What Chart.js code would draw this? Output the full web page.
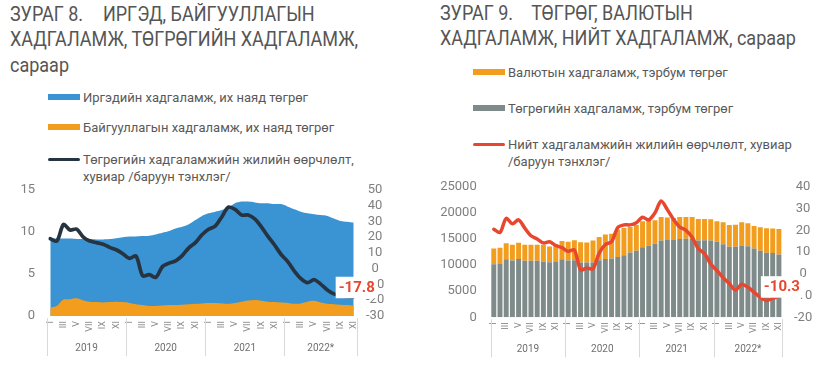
<!DOCTYPE html>
<html lang="mn">
<head>
    <meta charset="UTF-8">
    <title>Хадгаламж</title>
    <script src="https://cdn.jsdelivr.net/npm/chart.js"></script>
    <style>
        body {
            margin: 0;
            width: 825px;
            height: 366px;
            position: relative;
            overflow: hidden;
            background: #fff;
            font-family: Roboto, "Noto Sans", sans-serif;
            color: #595959;
        }
        .title {
            position: absolute;
            font-size: 20px;
            line-height: 25.3px;
            color: #555;
            white-space: nowrap;
            transform: scaleX(0.9);
            transform-origin: 0 0;
        }
        .title .gap {
            display: inline-block;
            width: 22px;
        }
        .legend {
            position: absolute;
            font-size: 13px;
            line-height: 17px;
            color: #595959;
        }
        .legend .item {
            position: absolute;
            left: 0;
            display: flex;
            align-items: flex-start;
            white-space: nowrap;
        }
        .legend .swatch {
            width: 32px;
            height: 6px;
            margin-top: 5.5px;
            margin-right: 3px;
            flex: none;
        }
        .legend .swatch.line {
            height: 3.5px;
            margin-top: 7px;
            border-radius: 2px;
        }
        canvas {
            position: absolute;
        }
    </style>
</head>
<body>
    <div class="title" style="left:10px; top:2px;">ЗУРАГ 8.<span class="gap"></span>ИРГЭД, БАЙГУУЛЛАГЫН<br>ХАДГАЛАМЖ, ТӨГРӨГИЙН ХАДГАЛАМЖ,<br>сараар</div>
    <div class="title" style="left:440px; top:1px;">ЗУРАГ 9.<span class="gap" style="width:20px"></span>ТӨГРӨГ, ВАЛЮТЫН<br>ХАДГАЛАМЖ, НИЙТ ХАДГАЛАМЖ, сараар</div>

    <div class="legend" id="legend8" style="left:48px; top:0;"></div>
    <div class="legend" id="legend9" style="left:473px; top:0;"></div>

    <canvas id="chart8" width="410" height="196" style="left:0; top:170px;"></canvas>
    <canvas id="chart9" width="405" height="201" style="left:420px; top:165px;"></canvas>

    <script>
        // months 2019 I .. 2022 XI
        const monthTicks = ['I', '', 'III', '', 'V', '', 'VII', '', 'IX', '', 'XI', ''];
        const years = ['2019', '2020', '2021', '2022*'];
        const monthCount = 47;

        // Зураг 8 (их наяд төгрөг, %)
        const individualDeposits = [
            9.2, 9.2, 9.2, 9.2, 9.15, 9.15, 9.15, 9.1, 9.1, 9.15, 9.25, 9.35,
            9.45, 9.45, 9.5, 9.55, 9.7, 9.9, 10.1, 10.4, 10.6, 10.9, 11.4, 11.9,
            12.2, 12.4, 12.6, 12.9, 13.4, 13.6, 13.6, 13.5, 13.4, 13.4, 13.3, 13.3,
            13.0, 12.7, 12.4, 12.2, 12.1, 12.0, 11.9, 11.6, 11.3, 11.2, 11.1
        ];
        const orgDeposits = [
            1.0, 1.2, 1.95, 2.0, 2.1, 1.85, 1.7, 1.65, 1.6, 1.65, 1.7, 1.65,
            1.55, 1.4, 1.3, 1.2, 1.2, 1.25, 1.3, 1.3, 1.35, 1.4, 1.45, 1.5,
            1.55, 1.55, 1.5, 1.45, 1.55, 1.7, 1.85, 1.9, 1.8, 1.7, 1.65, 1.6,
            1.55, 1.45, 1.5, 1.7, 1.8, 1.6, 1.45, 1.4, 1.35, 1.3, 1.25
        ];
        const mntGrowth = [
            19, 17.5, 28, 24.5, 25, 20, 17.5, 16.5, 15.5, 13.5, 12, 9.5,
            6.5, 8, -4.5, -3.8, -5.5, 1.3, 3.5, 5, 8.3, 13.2, 16.5, 21.5,
            25, 27, 32.8, 39, 37.6, 34, 34, 31.5, 26.5, 20.5, 15, 9,
            4.5, -1.5, -6.3, -8.9, -7, -9.8, -13.5, -16, -17.2, -17.6, -17.8
        ];

        // Зураг 9 (тэрбум төгрөг, %)
        const mntDeposits = [
            10180, 10200, 11100, 10900, 11150, 10850, 10850, 10850, 10700, 10550, 10600, 11100,
            10900, 10950, 10500, 10500, 10500, 10950, 11150, 11250, 11550, 11900, 12400, 12750,
            13400, 13700, 14100, 14700, 14800, 14800, 15000, 15050, 15000, 14700, 14750, 14700,
            14450, 14000, 13500, 13500, 13750, 13600, 13200, 12750, 12350, 12300, 12050
        ];
        const fxDeposits = [
            3020, 3100, 3100, 3000, 3150, 3050, 3050, 3050, 3200, 3000, 3400, 3500,
            3550, 3800, 3900, 3850, 4200, 4450, 4700, 4750, 5250, 5200, 4900, 4950,
            5000, 4900, 4500, 4500, 4300, 4200, 4200, 4150, 4200, 4150, 4100, 4100,
            3950, 4200, 4200, 4250, 4450, 4400, 4300, 4500, 4700, 4700, 4850
        ];
        const totalGrowth = [
            20.5, 19, 25.5, 23, 24.8, 21, 17.5, 16, 14.2, 14.7, 13, 12,
            10.3, 11, 1.8, 2.7, 2.3, 9.5, 13.5, 14.7, 21.3, 22.5, 22.5, 23.5,
            26, 24.8, 28, 33.5, 29.5, 25, 21.5, 20, 16.8, 11.5, 9.3, 4.5,
            1.5, -1.8, -4.5, -7.5, -4.8, -6.2, -8.5, -10.8, -12.3, -11.3, -10.3
        ];

        const labels = [];
        for (let i = 0; i < monthCount; i++) labels.push(monthTicks[i % 12]);

        const tickColor = '#7f7f7f';

        // year labels + separators under the month ticks
        const yearAxis = {
            id: 'yearAxis',
            afterDraw(chart) {
                const { ctx, chartArea, scales } = chart;
                const x = scales.x;
                const step = x.getPixelForValue(1) - x.getPixelForValue(0);
                const n = chart.data.labels.length;
                ctx.save();
                ctx.strokeStyle = '#d9d9d9';
                ctx.lineWidth = 1;
                ctx.fillStyle = '#6f6f6f';
                ctx.font = '10px Roboto';
                ctx.textAlign = 'center';
                ctx.textBaseline = 'middle';
                years.forEach((yr, k) => {
                    const first = k * 12;
                    const last = Math.min(first + 11, n - 1);
                    const left = x.getPixelForValue(first) - step / 2;
                    const right = x.getPixelForValue(last) + step / 2;
                    const edges = k === years.length - 1 ? [left, right] : [left];
                    edges.forEach(px => {
                        ctx.beginPath();
                        ctx.moveTo(Math.round(px) + 0.5, chartArea.bottom + 2);
                        ctx.lineTo(Math.round(px) + 0.5, chartArea.bottom + 40);
                        ctx.stroke();
                    });
                    ctx.fillText(yr, (left + right) / 2, chartArea.bottom + 32);
                });
                ctx.restore();
            }
        };

        // boxed value on the last point of the line
        const lastValue = {
            id: 'lastValue',
            afterDraw(chart) {
                const ds = chart.data.datasets[0];
                const meta = chart.getDatasetMeta(0);
                const pt = meta.data[meta.data.length - 1];
                const txt = String(ds.data[ds.data.length - 1]);
                const ctx = chart.ctx;
                ctx.save();
                ctx.font = 'bold 15px Roboto';
                const w = ctx.measureText(txt).width;
                const cx = pt.x + 3;
                const cy = pt.y - 10;
                ctx.fillStyle = '#fff';
                ctx.fillRect(cx - w / 2 - 3, cy - 10, w + 6, 21.5);
                ctx.fillStyle = '#e8472f';
                ctx.textAlign = 'center';
                ctx.textBaseline = 'middle';
                ctx.fillText(txt, cx, cy + 1);
                ctx.restore();
            }
        };

        function xScale() {
            return {
                offset: true,
                grid: { display: false, drawTicks: false },
                border: { display: false },
                ticks: {
                    autoSkip: false, minRotation: 90, maxRotation: 90,
                    font: { size: 9, family: 'Roboto' }, color: '#8a8a8a', padding: 5
                }
            };
        }

        function yScale(pos, min, max, step, pad, width, align) {
            return {
                position: pos, min: min, max: max,
                grid: { display: false, drawTicks: false },
                border: { display: false },
                ticks: {
                    stepSize: step, padding: pad, crossAlign: align, autoSkip: false,
                    font: { size: 13, family: 'Roboto' }, color: tickColor,
                    callback: v => String(v)
                },
                afterFit(s) { s.width = width; }
            };
        }

        function buildLegend(id, items, tops) {
            const box = document.getElementById(id);
            items.forEach((it, k) => {
                const row = document.createElement('div');
                row.className = 'item';
                row.style.top = tops[k] + 'px';
                const sw = document.createElement('div');
                sw.className = 'swatch' + (it.line ? ' line' : '');
                sw.style.background = it.color;
                const tx = document.createElement('div');
                tx.innerHTML = it.text;
                row.appendChild(sw);
                row.appendChild(tx);
                box.appendChild(row);
            });
        }

        const x8 = xScale();
        x8.afterFit = s => { s.height = 50; };

        const chart8 = new Chart(document.getElementById('chart8'), {
            type: 'line',
            data: {
                labels: labels,
                datasets: [
                    {
                        label: 'Төгрөгийн хадгаламжийн жилийн өөрчлөлт, хувиар /баруун тэнхлэг/',
                        data: mntGrowth, yAxisID: 'y1',
                        borderColor: '#263442', borderWidth: 3.7, pointRadius: 0,
                        tension: 0.3, borderJoinStyle: 'round', borderCapStyle: 'round', fill: false
                    },
                    {
                        label: 'Байгууллагын хадгаламж, их наяд төгрөг',
                        data: orgDeposits, yAxisID: 'y',
                        backgroundColor: '#f29d1e', borderWidth: 0, pointRadius: 0,
                        tension: 0.3, fill: 'origin'
                    },
                    {
                        label: 'Иргэдийн хадгаламж, их наяд төгрөг',
                        data: individualDeposits, yAxisID: 'y',
                        backgroundColor: '#3a93d3', borderWidth: 0, pointRadius: 0,
                        tension: 0.3, fill: 'origin'
                    }
                ]
            },
            options: {
                responsive: false,
                animation: false,
                layout: { padding: { top: 12 } },
                plugins: { legend: { display: false }, tooltip: { enabled: false } },
                scales: {
                    x: x8,
                    y: yScale('left', 0, 15, 5, 12, 47, 'near'),
                    y1: yScale('right', -30, 50, 10, 9, 53, 'center')
                }
            },
            plugins: [yearAxis, lastValue]
        });

        const x9 = xScale();
        x9.stacked = true;
        x9.afterFit = s => { s.height = 48.7; };
        const y9 = yScale('left', 0, 25000, 5000, 14, 70.7, 'near');
        y9.stacked = true;

        const chart9 = new Chart(document.getElementById('chart9'), {
            type: 'bar',
            data: {
                labels: labels,
                datasets: [
                    {
                        type: 'line',
                        label: 'Нийт хадгаламжийн жилийн өөрчлөлт, хувиар /баруун тэнхлэг/',
                        data: totalGrowth, yAxisID: 'y1',
                        borderColor: '#e8472f', borderWidth: 3.5, pointRadius: 0,
                        tension: 0.3, borderJoinStyle: 'round', borderCapStyle: 'round', fill: false
                    },
                    {
                        label: 'Төгрөгийн хадгаламж, тэрбум төгрөг',
                        data: mntDeposits, yAxisID: 'y',
                        backgroundColor: '#7e8b8a', barPercentage: 0.8, categoryPercentage: 1
                    },
                    {
                        label: 'Валютын хадгаламж, тэрбум төгрөг',
                        data: fxDeposits, yAxisID: 'y',
                        backgroundColor: '#f29d1e', barPercentage: 0.8, categoryPercentage: 1
                    }
                ]
            },
            options: {
                responsive: false,
                animation: false,
                layout: { padding: { top: 14 } },
                plugins: { legend: { display: false }, tooltip: { enabled: false } },
                scales: {
                    x: x9,
                    y: y9,
                    y1: yScale('right', -20, 40, 10, 12, 43, 'center')
                }
            },
            plugins: [yearAxis, lastValue]
        });

        const ds8 = chart8.data.datasets;
        buildLegend('legend8', [
            { text: ds8[2].label, color: ds8[2].backgroundColor },
            { text: ds8[1].label, color: ds8[1].backgroundColor },
            { text: 'Төгрөгийн хадгаламжийн жилийн өөрчлөлт,<br>хувиар /баруун тэнхлэг/', color: ds8[0].borderColor, line: true }
        ], [88.5, 118.5, 150.5]);

        const ds9 = chart9.data.datasets;
        buildLegend('legend9', [
            { text: ds9[2].label, color: ds9[2].backgroundColor },
            { text: ds9[1].label, color: ds9[1].backgroundColor },
            { text: 'Нийт хадгаламжийн жилийн өөрчлөлт, хувиар<br>/баруун тэнхлэг/', color: ds9[0].borderColor, line: true }
        ], [63.5, 99.5, 135.5]);
    </script>
</body>
</html>
